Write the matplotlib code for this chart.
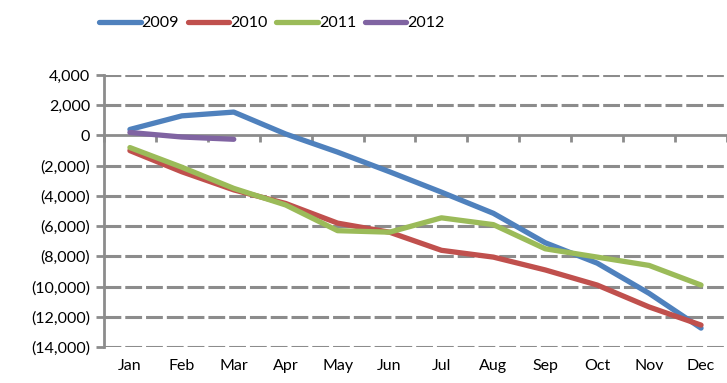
import matplotlib.pyplot as plt
from matplotlib.ticker import FuncFormatter

plt.rcParams['font.family'] = ['Lato', 'DejaVu Sans']

months = ["Jan", "Feb", "Mar", "Apr", "May", "Jun",
          "Jul", "Aug", "Sep", "Oct", "Nov", "Dec"]

# monthly values per year
y2009 = [400, 1300, 1550, 100, -1100, -2400, -3750, -5150, -7100, -8450, -10450, -12750]
y2010 = [-1000, -2400, -3600, -4500, -5800, -6400, -7600, -8050, -8900, -9900, -11350, -12550]
y2011 = [-800, -2100, -3500, -4600, -6300, -6400, -5450, -5900, -7500, -8050, -8600, -9900]
y2012 = [200, -100, -250]

series = [("2009", y2009, "#4F81BD"),
          ("2010", y2010, "#C0504D"),
          ("2011", y2011, "#9BBB59"),
          ("2012", y2012, "#8064A2")]

GRAY = "#8c8c8c"

fig = plt.figure(figsize=(7.27, 3.83), dpi=100)
ax = fig.add_axes([0.143, 0.094, 0.857, 0.71])

# dashed horizontal gridlines (the zero line is the axis itself)
for v in range(-14000, 4001, 2000):
    if v != 0:
        ax.axhline(v, color=GRAY, lw=2.2, ls=(0, (5.5, 1.3)), zorder=1)

for name, vals, col in series:
    ax.plot(range(len(vals)), vals, color=col, lw=3.8, label=name,
            solid_capstyle="round", solid_joinstyle="round", zorder=3)

ax.set_xlim(-0.5, 11.5)
ax.set_ylim(-14000, 4000)
ax.set_yticks(range(-14000, 4001, 2000))
ax.yaxis.set_major_formatter(FuncFormatter(
    lambda v, p: "0" if v == 0 else (f"{v:,.0f}" if v > 0 else f"({-v:,.0f})")))
ax.tick_params(axis="y", length=6, width=2, color=GRAY, labelsize=11.5, pad=4)

for s in ["top", "right"]:
    ax.spines[s].set_visible(False)
ax.spines["left"].set_color(GRAY)
ax.spines["left"].set_linewidth(2)
ax.spines["bottom"].set_position(("data", 0))
ax.spines["bottom"].set_color(GRAY)
ax.spines["bottom"].set_linewidth(2)
ax.spines["bottom"].set_zorder(2)

# category boundary ticks on the zero line
ax.set_xticks([i - 0.5 for i in range(13)])
ax.tick_params(axis="x", length=5, width=2, color=GRAY, labelbottom=False)

# month labels below the plot area
sec = ax.secondary_xaxis("bottom")
sec.set_xticks(range(12))
sec.set_xticklabels(months)
sec.tick_params(length=0, labelsize=11.5, pad=9)
sec.spines["bottom"].set_visible(False)

fig.legend(loc="upper center", bbox_to_anchor=(0.374, 0.995), ncol=4,
           frameon=False, fontsize=11.5, handlelength=2.6, handletextpad=0.05,
           columnspacing=0.55)

fig.savefig("out.png", dpi=100)
